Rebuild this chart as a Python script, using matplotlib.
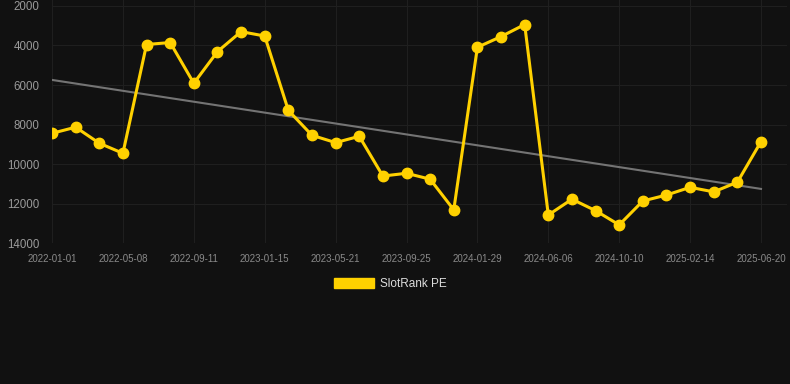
import numpy as np
import matplotlib
matplotlib.use('Agg')
import matplotlib.pyplot as plt
from matplotlib.patches import Patch

# tick labels shown on the x axis (every third point)
tick_labels = ['2022-01-01', '2022-05-08', '2022-09-11', '2023-01-15', '2023-05-21',
               '2023-09-25', '2024-01-29', '2024-06-06', '2024-10-10', '2025-02-14',
               '2025-06-20']
# SlotRank PE rank values
rank = [8440, 8130, 8940, 9450, 3950, 3850, 5910, 4310, 3300, 3520,
        7280, 8540, 8910, 8590, 10600, 10460, 10760, 12310, 4090, 3550,
        2940, 12570, 11770, 12350, 13070, 11860, 11560, 11170, 11400, 10910,
        8860]
yticks = [2000, 4000, 6000, 8000, 10000, 12000, 14000]

bg = '#111111'
gold = '#FFD100'

plt.rcParams['font.family'] = ['Liberation Sans', 'DejaVu Sans']

fig = plt.figure(figsize=(7.9, 3.84), dpi=100, facecolor=bg)
ax = fig.add_axes([52/790, 1 - 243.3/384, 735/790, 243.3/384])
ax.set_facecolor(bg)

x = np.arange(len(rank))
y = np.array(rank)

# linear trend
coef = np.polyfit(x, y, 1)
ax.plot(x, np.polyval(coef, x), color='#747474', lw=1.5, zorder=2)

ax.plot(x, y, color=gold, lw=2.2, marker='o', markersize=7.5, zorder=3)

ax.set_xlim(0, 31.1)
ax.set_ylim(14000, 1700)
ax.set_yticks(yticks)
ax.set_yticklabels([str(v) for v in yticks])
ax.set_xticks(x[::3])
ax.set_xticklabels(tick_labels)

ax.grid(True, color='#1f1f1f', lw=0.8)
ax.set_axisbelow(True)
for s in ax.spines.values():
    s.set_visible(False)
ax.tick_params(axis='y', length=0, pad=9, labelsize=8.3, labelcolor='#9a9a9a')
ax.tick_params(axis='x', length=0, pad=8, labelsize=7, labelcolor='#8a8a8a')

handle = Patch(facecolor=gold, edgecolor=gold, label='SlotRank PE')
fig.legend(handles=[handle], loc='center', bbox_to_anchor=(390/790, 1 - 284/384),
           frameon=False, fontsize=8.5, labelcolor='#dddddd',
           handlelength=3.4, handleheight=1.0, handletextpad=0.5)

fig.savefig('out.png', dpi=100, facecolor=bg)
